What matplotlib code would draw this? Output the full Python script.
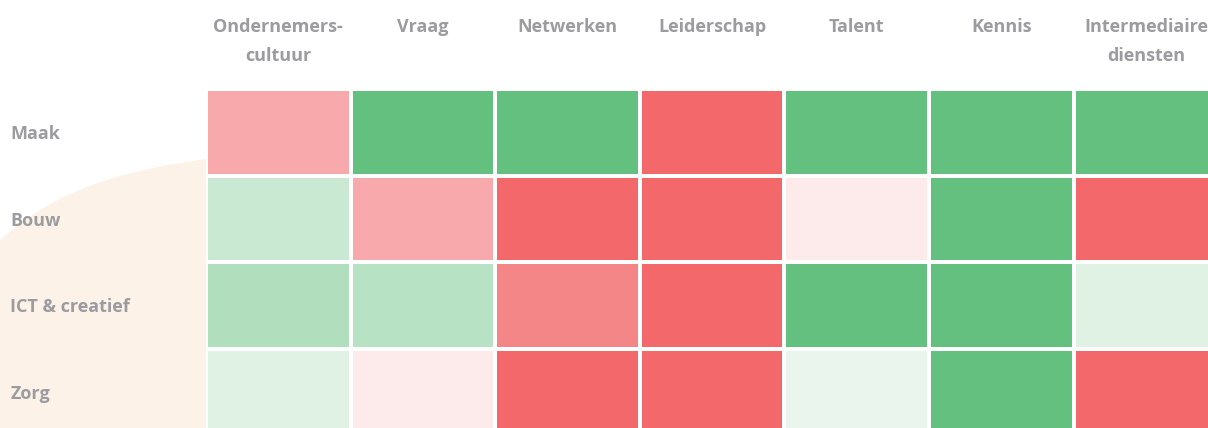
import numpy as np
import matplotlib.pyplot as plt
from matplotlib.colors import LinearSegmentedColormap
from matplotlib.path import Path
from matplotlib.patches import PathPatch

plt.rcParams['font.family'] = ['Open Sans', 'DejaVu Sans']

sectors = ["Maak", "Bouw", "ICT & creatief", "Zorg"]
factors = ["Ondernemers-\ncultuur", "Vraag", "Netwerken", "Leiderschap",
           "Talent", "Kennis", "Intermediaire\ndiensten"]

# score per sector, -3 (zwak) .. 3 (sterk)
maak = [-1.7, 3, 3, -3, 3, 3, 3]
bouw = [1.05, -1.7, -3, -3, -0.38, 3, -3]
ict = [1.5, 1.4, -2.4, -3, 3, 3, 0.63]
zorg = [0.63, -0.38, -3, -3, 0.4, 3, -3]

scores = np.array([maak, bouw, ict, zorg])

cmap = LinearSegmentedColormap.from_list(
    "rg", [(0, "#f2686b"), (0.5, "#ffffff"), (1, "#64c07e")])

W, H = 1208, 428
fig = plt.figure(figsize=(W / 100, H / 100), dpi=100)

# achtergrondvorm links
bg = fig.add_axes([0, 0, 1, 1], zorder=0)
bg.set_xlim(0, W)
bg.set_ylim(H, 0)
bg.axis("off")
verts = [(0, 240), (45, 200), (100, 172), (215, 158),
         (320, 150), (320, 440), (0, 440), (0, 240)]
codes = [Path.MOVETO, Path.CURVE4, Path.CURVE4, Path.CURVE4,
         Path.LINETO, Path.LINETO, Path.LINETO, Path.CLOSEPOLY]
bg.add_patch(PathPatch(Path(verts, codes), facecolor="#fdf2e8", edgecolor="none"))

cw, ch = 144.6, 86.6
x0, y0 = 206, 89
ax = fig.add_axes([x0 / W, 1 - (y0 + 4 * ch) / H, 7 * cw / W, 4 * ch / H], zorder=1)
ax.set_facecolor("white")
ax.pcolormesh(scores, cmap=cmap, vmin=-3, vmax=3, edgecolors="white", linewidth=1.6)
ax.set_xlim(0, 7)
ax.set_ylim(4, 0)
for s in ax.spines.values():
    s.set_visible(False)

grey = "#9b9ba0"
ax.xaxis.tick_top()
ax.set_xticks(np.arange(7) + 0.5)
ax.set_xticklabels(factors, fontsize=13, fontweight="bold", color=grey,
                   linespacing=1.75, va="top")
ax.set_yticks(np.arange(4) + 0.5)
ax.set_yticklabels(sectors, fontsize=13, fontweight="bold", color=grey, ha="left")
ax.tick_params(axis="x", length=0, pad=51)
ax.tick_params(axis="y", length=0, pad=141)

fig.savefig("out.png", dpi=100)
